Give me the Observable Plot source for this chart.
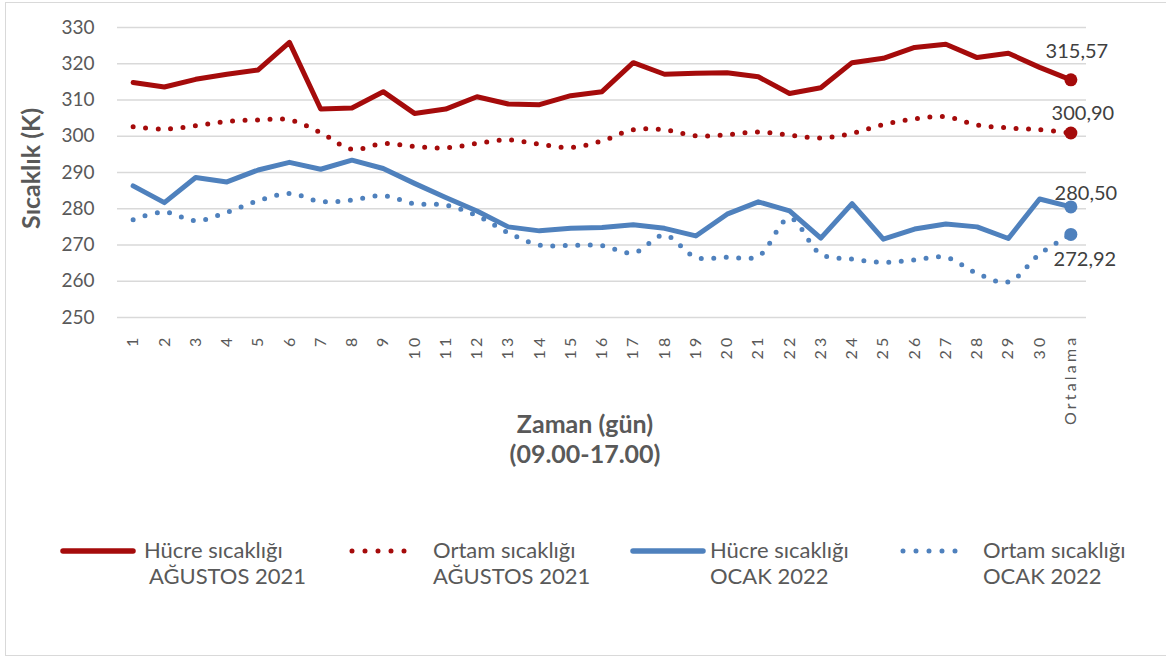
<!DOCTYPE html>
<html>
<head>
<meta charset="utf-8">
<script src="https://cdn.jsdelivr.net/npm/d3@7"></script>
<script src="https://cdn.jsdelivr.net/npm/@observablehq/plot@0.6"></script>
<style>
  body { margin: 0; background: #fff; font-family: Lato, "Open Sans", sans-serif; }
  #frame { position: absolute; left: 5px; top: 2px; width: 1200px; height: 654px; border: 1.5px solid #d9d9d9; box-sizing: border-box; }
  #chart { position: absolute; left: 0; top: 0; }
  #chart g[aria-label="x-axis tick label"] text { letter-spacing: 3.2px; }
  #legend { position: absolute; left: 0; top: 537px; width: 1166px; height: 60px; color: #595959; font-size: 22px; line-height: 26px; }
  .item { position: absolute; top: 0; }
  .item svg { position: absolute; top: 9px; }
  .item .txt { position: absolute; white-space: pre; }
  .item:nth-child(1) svg { left: 58px; } .item:nth-child(1) .txt { left: 144px; }
  .item:nth-child(2) svg { left: 347px; } .item:nth-child(2) .txt { left: 433px; }
  .item:nth-child(3) svg { left: 628px; } .item:nth-child(3) .txt { left: 710px; }
  .item:nth-child(4) svg { left: 898px; } .item:nth-child(4) .txt { left: 983px; }
</style>
</head>
<body>
<div id="frame"></div>
<div id="chart"></div>
<div id="legend"></div>
<script>
const days = ["1","2","3","4","5","6","7","8","9","10","11","12","13","14","15","16","17","18","19","20","21","22","23","24","25","26","27","28","29","30","Ortalama"];

const hucreAgustos = [314.8,313.6,315.7,317.1,318.3,325.9,307.5,307.8,312.3,306.3,307.5,310.9,308.9,308.7,311.2,312.3,320.3,317.1,317.4,317.5,316.4,311.8,313.4,320.3,321.5,324.5,325.4,321.7,322.9,319.0,315.57];
const ortamAgustos = [302.6,302.0,302.9,304.1,304.5,304.5,301.0,296.4,298.0,297.2,296.8,298.0,299.0,297.8,296.9,298.7,301.8,301.8,300.1,300.4,301.2,300.3,299.5,300.8,303.2,304.8,305.4,303.1,302.3,301.8,300.90];
const hucreOcak = [286.3,281.7,288.6,287.4,290.7,292.8,290.9,293.4,291.1,287.0,283.1,279.4,275.0,273.9,274.6,274.8,275.6,274.6,272.5,278.5,281.9,279.4,271.9,281.4,271.6,274.4,275.8,275.0,271.8,282.7,280.50];
const ortamOcak = [277.0,279.1,276.7,279.0,282.2,284.2,282.0,282.4,283.6,281.4,281.0,278.1,273.4,270.0,269.9,269.8,267.8,272.7,266.6,266.6,266.9,277.4,267.5,266.1,265.2,265.9,266.6,262.2,259.8,267.5,272.92];

const seriesNames = ["Hücre sıcaklığı\n AĞUSTOS 2021", "Ortam sıcaklığı\nAĞUSTOS 2021", "Hücre sıcaklığı\nOCAK 2022", "Ortam sıcaklığı\nOCAK 2022"];
const seriesValues = [hucreAgustos, ortamAgustos, hucreOcak, ortamOcak];
const seriesColors = ["#a50b0b", "#a50b0b", "#4f81bd", "#4f81bd"];
const seriesDotted = [false, true, false, true];
const labelOffsets = [[6, -28], [12, -19], [15, -13], [14, 25]];

const fmt = v => d3.format(".2f")(v).replace(".", ",");

const series = seriesNames.map((name, s) => ({
  name, color: seriesColors[s], dotted: seriesDotted[s],
  rows: days.map((day, i) => ({day, value: seriesValues[s][i]}))
}));

const marks = [
  Plot.gridY(d3.range(250, 331, 10), {stroke: "#d9d9d9", strokeOpacity: 1, strokeWidth: 1.5}),
  Plot.axisY(d3.range(250, 331, 10), {tickSize: 0, tickPadding: 23, fontSize: 19, label: null, fill: "#595959"}),
  Plot.axisX({tickSize: 0, tickPadding: 17, tickRotate: -90, fontSize: 16, label: null, fill: "#595959"})
];

series.forEach((s, k) => {
  marks.push(Plot.line(s.rows, {
    x: "day", y: "value", stroke: s.color, strokeWidth: 5,
    strokeLinecap: "round", strokeLinejoin: "round",
    curve: s.dotted ? "catmull-rom" : "linear",
    strokeDasharray: s.dotted ? "0 12.5" : null
  }));
});
series.forEach((s, k) => {
  const last = s.rows.filter(r => r.day === "Ortalama");
  marks.push(Plot.dot(last, {x: "day", y: "value", r: 6.5, fill: s.color, stroke: null}));
  marks.push(Plot.text(last, {x: "day", y: "value", text: r => fmt(r.value), dx: labelOffsets[k][0], dy: labelOffsets[k][1], fontSize: 20, fill: "#404040"}));
});

marks.push(Plot.text(["Sıcaklık (K)"], {frameAnchor: "left", textAnchor: "middle", rotate: -90, dx: -86, dy: -4, fontSize: 25, fontWeight: "bold", fill: "#595959"}));
marks.push(Plot.text(["Zaman (gün)\n(09.00-17.00)"], {frameAnchor: "bottom", dx: -17, dy: 145, lineHeight: 1.2, fontSize: 25, fontWeight: "bold", fill: "#595959"}));

const chart = Plot.plot({
  width: 1166, height: 480,
  marginTop: 27, marginBottom: 163, marginLeft: 117, marginRight: 80,
  style: {fontFamily: "Lato, 'Open Sans', sans-serif", background: "transparent", color: "#595959", overflow: "visible"},
  x: {type: "point", domain: days, padding: 0.5, round: false, label: null},
  y: {domain: [250, 330], label: null},
  marks
});
document.getElementById("chart").appendChild(chart);

const legend = d3.select("#legend");
series.forEach(s => {
  const item = legend.append("div").attr("class", "item");
  const sw = item.append("svg").attr("width", 80).attr("height", 10);
  if (s.dotted) {
    sw.append("line").attr("x1", 5).attr("x2", 70).attr("y1", 5).attr("y2", 5)
      .attr("stroke", s.color).attr("stroke-width", 5).attr("stroke-linecap", "round").attr("stroke-dasharray", "0 13");
  } else {
    sw.append("line").attr("x1", 5).attr("x2", 75).attr("y1", 5).attr("y2", 5)
      .attr("stroke", s.color).attr("stroke-width", 5.5).attr("stroke-linecap", "round");
  }
  item.append("div").attr("class", "txt").text(s.name);
});
</script>
</body>
</html>
